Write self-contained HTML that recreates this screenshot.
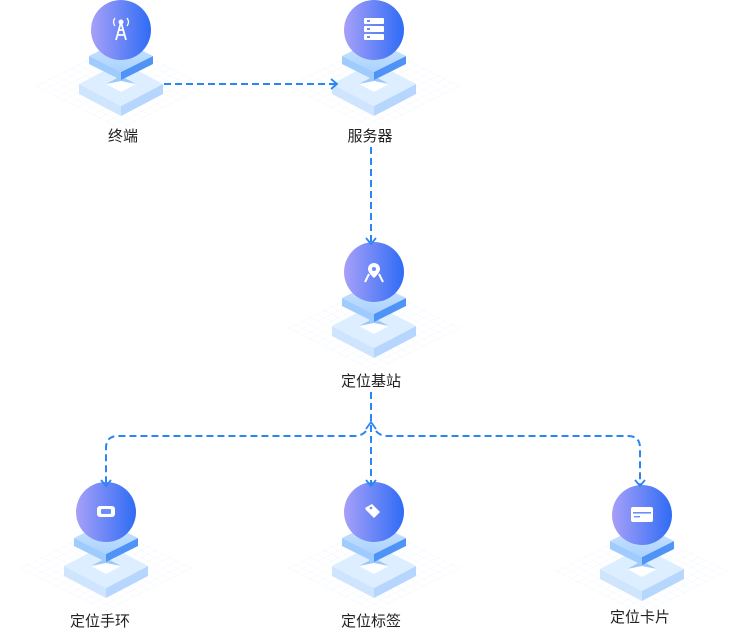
<!DOCTYPE html>
<html><head><meta charset="utf-8"><style>
body{margin:0;background:#fff;width:740px;height:632px;overflow:hidden}
text{font-family:"Liberation Sans","Noto Sans CJK SC",sans-serif;font-size:15px;fill:#222;text-anchor:middle}
</style></head><body>
<svg width="740" height="632" viewBox="0 0 740 632" xmlns="http://www.w3.org/2000/svg">
<defs>
<linearGradient id="cg" x1="0" x2="1" y1="0" y2="0"><stop offset="0" stop-color="#a7a0f8"/><stop offset="1" stop-color="#2f6cf5"/></linearGradient>
<linearGradient id="tl" x1="0" x2="0" y1="0" y2="1"><stop offset="0" stop-color="#cfe6ff"/><stop offset="1" stop-color="#a9d2ff"/></linearGradient>
<pattern id="grid" width="10" height="10" patternUnits="userSpaceOnUse"><path d="M0 0H10M0 0V10" stroke="#e6effb" stroke-width="1" fill="none"/></pattern>
<g id="node">
 <g transform="translate(0,56) scale(1,0.5) rotate(45)" opacity="0.8"><rect x="-62" y="-62" width="124" height="124" fill="url(#grid)"/></g>
 <polygon points="-42,54 0,76 0,86 -42,64" fill="#cfe5fd"/>
 <polygon points="42,54 0,76 0,86 42,64" fill="#b6d6fd"/>
 <polygon points="0,32 42,54 0,76 -42,54" fill="#dceeff"/>
 <polygon points="0,46 15,54 0,62 -15,54" fill="#fff"/>
 <polygon points="-15,54 0,46 15,54 0,51" fill="#9cc8fb"/>
 <polygon points="-32,26 0,42 0,50 -32,34" fill="#9fcbfd"/>
 <polygon points="32,26 0,42 0,50 32,34" fill="#4f93f6"/>
 <polygon points="0,10 32,26 0,42 -32,26" fill="url(#tl)"/>
 <circle cx="0" cy="0" r="30" fill="url(#cg)"/>
</g>
<marker id="ah" markerWidth="12" markerHeight="12" refX="6" refY="6" orient="auto" markerUnits="userSpaceOnUse"><path d="M1 1L7 6L1 11" fill="none" stroke="#2b86f5" stroke-width="1.8"/></marker>
</defs>

<use href="#node" x="121" y="30"/>
<use href="#node" x="374" y="30"/>
<use href="#node" x="374" y="272"/>
<use href="#node" x="106" y="512"/>
<use href="#node" x="374" y="512"/>
<use href="#node" x="642" y="515"/>

<g fill="#fff" stroke="#fff">
 <path d="M121 22 L116 40 M121 22 L126 40 M118 30 H124 M117 35 H125" stroke-width="1.8" fill="none"/>
 <circle cx="121" cy="22" r="2"/>
 <path d="M115 18 q-3 4 0 8 M127 18 q3 4 0 8" stroke-width="1.3" fill="none"/>
 <rect x="364" y="18" width="20" height="6" rx="1" stroke="none"/>
 <rect x="364" y="26" width="20" height="6" rx="1" stroke="none"/>
 <rect x="364" y="34" width="20" height="6" rx="1" stroke="none"/>
 <path d="M374 263 a6 6 0 0 1 6 6 c0 4 -6 9 -6 9 c0 0 -6 -5 -6 -9 a6 6 0 0 1 6 -6z" stroke="none"/>
 <path d="M365 282 L369 274 M383 282 L379 274" stroke-width="2"/>
 <rect x="97" y="506" width="18" height="11" rx="3" stroke="none"/>
 <path d="M365 508 l7 -4 l8 8 l-6 6 l-8 -8z" stroke="none"/>
 <rect x="631" y="507" width="22" height="15" rx="2" stroke="none"/>
</g>
<g fill="#6b8ff6">
 <rect x="367" y="20" width="3" height="2"/><rect x="367" y="28" width="3" height="2"/><rect x="367" y="36" width="3" height="2"/>
 <circle cx="374" cy="269" r="2"/>
 <rect x="101" y="509" width="10" height="5" rx="1"/>
 <circle cx="371" cy="508" r="1.3"/>
 <rect x="633" y="512" width="18" height="1.6"/><rect x="634" y="516" width="6" height="1.4"/>
</g>

<g stroke="#2b86f5" stroke-width="2" stroke-dasharray="7 4" fill="none">
 <path d="M164 84 H336" marker-end="url(#ah)"/>
 <path d="M371 147 V243" marker-end="url(#ah)"/>
 <path d="M371 392 V485" marker-end="url(#ah)"/>
 <path d="M366 431 Q362 436 354 436 H118 Q106 436 106 448 V485" marker-end="url(#ah)"/>
 <path d="M376 431 Q380 436 388 436 H628 Q640 436 640 448 V485" marker-end="url(#ah)"/>
</g>
<path d="M366 429 L371 422 L376 429" fill="none" stroke="#2b86f5" stroke-width="1.8"/>

<text x="123" y="141">终端</text>
<text x="370" y="141">服务器</text>
<text x="371" y="386">定位基站</text>
<text x="100" y="626">定位手环</text>
<text x="371" y="626">定位标签</text>
<text x="640" y="622">定位卡片</text>
</svg>
</body></html>
